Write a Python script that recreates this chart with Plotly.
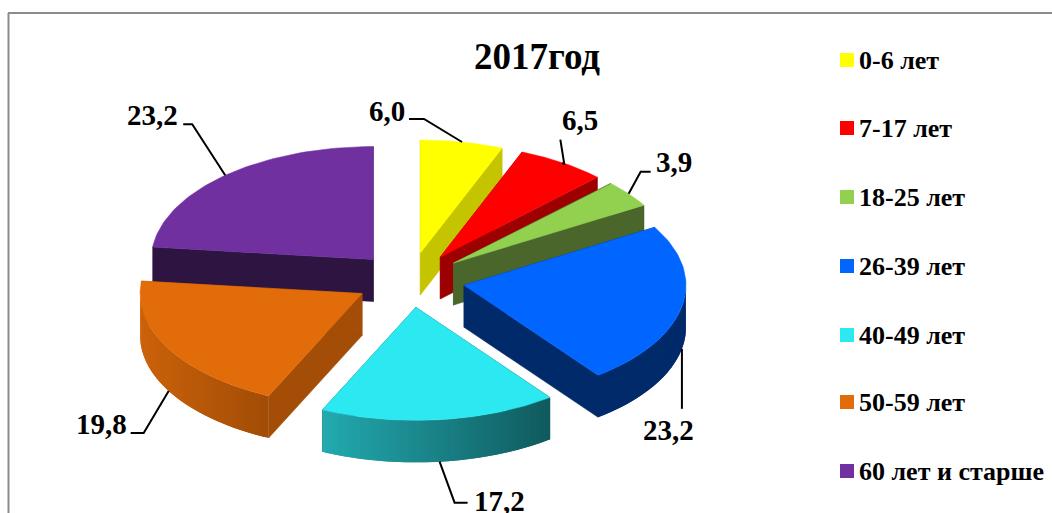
import math
import plotly.graph_objects as go

# ---- data ----
categories = ["0-6 лет", "7-17 лет", "18-25 лет", "26-39 лет", "40-49 лет", "50-59 лет", "60 лет и старше"]
values = [6.0, 6.5, 3.9, 23.2, 17.2, 19.8, 23.2]
value_labels = ["6,0", "6,5", "3,9", "23,2", "17,2", "19,8", "23,2"]
title_text = "2017год"

# ---- colours ----
top_colors = ["#FFFF00", "#FF0000", "#92D050", "#0066FF", "#2CE8F0", "#E36C0A", "#7030A0"]
radial_colors = ["#C4C400", "#9C0000", "#4A662A", "#002A6A", "#0F5A5E", "#A34D07", "#2E1440"]
rim_left = ["#C4C400", "#9C0000", "#4A662A", "#002A6A", "#22A9AE", "#CC620A", "#2E1440"]
rim_right = ["#C4C400", "#9C0000", "#4A662A", "#002A6A", "#105B5F", "#A34D07", "#2E1440"]

# ---- geometry ----
CX, CY, RX, RY, DEPTH, EXPLODE = 410, 280, 222, 113, 42, 55
leaders = [(-38, -23, -53, -23), (2, 2, -2, -23), (12, -22, 22, -22),
           (0, 60, 0, 60), (15, 41, 28, 41), (-25, 42, -38, 42), (-33, -51, -42, -51)]
label_anchor = [("right", -2, -8), ("left", 0, -20), ("left", 3, -10), ("center", -13, 21),
                ("left", 4, -2), ("right", -2, -9), ("right", -3, -9)]
legend_marker_x = 847
legend_text_x = 857
legend_y = [60, 128, 197, 266, 335, 402, 471]


def hex_mix(a, b, t):
    ca = [int(a[i:i + 2], 16) for i in (1, 3, 5)]
    cb = [int(b[i:i + 2], 16) for i in (1, 3, 5)]
    return "rgb(%d,%d,%d)" % tuple(round(p + (q - p) * t) for p, q in zip(ca, cb))


def poly(xs, ys, color, lw=0.5):
    return go.Scatter(x=xs, y=ys, mode="lines", fill="toself", fillcolor=color,
                      line=dict(color=color, width=lw), hoverinfo="skip", showlegend=False)


total = sum(values)
spans, c = [], 0.0
for v in values:
    spans.append((c / total * 2 * math.pi, (c + v) / total * 2 * math.pi))
    c += v

fig = go.Figure()
order = [6, 0, 1, 2, 3, 5, 4]
anchors = {}
for i in order:
    a0, a1 = spans[i]
    mid = (a0 + a1) / 2
    ax = CX + EXPLODE * math.sin(mid)
    ay = CY - EXPLODE * math.cos(mid) * 0.5
    n = 60
    angs = [a0 + (a1 - a0) * k / n for k in range(n + 1)]
    rx = [ax + RX * math.sin(t) for t in angs]
    ry = [ay - RY * math.cos(t) for t in angs]
    # radial walls
    fig.add_trace(poly([ax, rx[0], rx[0], ax, ax], [ay, ry[0], ry[0] + DEPTH, ay + DEPTH, ay], radial_colors[i]))
    fig.add_trace(poly([ax, rx[-1], rx[-1], ax, ax], [ay, ry[-1], ry[-1] + DEPTH, ay + DEPTH, ay], radial_colors[i]))
    # outer wall, shaded from left to right; bands overlap so that no seams show
    vis = [k for k in range(n) if math.cos((angs[k] + angs[k + 1]) / 2) < 0]
    if vis:
        xmin, xmax = min(rx[k] for k in vis), max(rx[k + 1] for k in vis)
        bands = [(vis[j], vis[min(j + 1, len(vis) - 1)] + 1) for j in range(len(vis))]
        for k, e in bands:
            t = ((rx[k] + rx[k + 1]) / 2 - xmin) / max(xmax - xmin, 1)
            col = hex_mix(rim_left[i], rim_right[i], t)
            fig.add_trace(poly([rx[k], rx[e], rx[e], rx[k], rx[k]],
                               [ry[k], ry[e], ry[e] + DEPTH, ry[k] + DEPTH, ry[k]], col, 0))
    # top face
    fig.add_trace(poly([ax] + rx + [ax], [ay] + ry + [ay], top_colors[i]))
    px = ax + RX * math.sin(mid)
    py = ay - RY * math.cos(mid) + (DEPTH if math.cos(mid) < 0 else 0)
    anchors[i] = (px, py)

notes = []
for i in range(len(values)):
    px, py = anchors[i]
    ex, ey, fx, fy = leaders[i]
    fig.add_trace(go.Scatter(x=[px, px + ex, px + fx], y=[py, py + ey, py + fy], mode="lines",
                             line=dict(color="#000000", width=2), hoverinfo="skip", showlegend=False))
    anc, dx, dy = label_anchor[i]
    notes.append(dict(x=px + fx + dx, y=py + fy + dy, xref="x", yref="y",
                      text="<b>%s</b>" % value_labels[i], showarrow=False, xanchor=anc, yanchor="middle",
                      font=dict(family="Liberation Serif", size=29, color="#000000")))

# legend key
for i, name in enumerate(categories):
    fig.add_trace(go.Scatter(x=[legend_marker_x], y=[legend_y[i]], mode="markers", name=name, showlegend=False,
                             marker=dict(symbol="square", size=14, color=top_colors[i], line=dict(width=0))))
    notes.append(dict(x=legend_text_x, y=legend_y[i], xref="x", yref="y", text="<b>%s</b>" % name, showarrow=False,
                      xanchor="left", yanchor="middle", font=dict(family="Liberation Serif", size=26, color="#000000")))

notes.append(dict(x=537, y=56, xref="x", yref="y", text="<b>%s</b>" % title_text, showarrow=False,
                  font=dict(family="Liberation Serif", size=37, color="#000000")))

fig.update_layout(
    width=1052, height=513, autosize=False,
    margin=dict(l=0, r=0, t=0, b=0),
    paper_bgcolor="#FFFFFF", plot_bgcolor="#FFFFFF", showlegend=False,
    xaxis=dict(range=[0, 1052], visible=False, fixedrange=True),
    yaxis=dict(range=[513, 0], visible=False, fixedrange=True),
    shapes=[dict(type="line", xref="x", yref="y", x0=8.5, x1=8.5, y0=13, y1=513, line=dict(color="#8C8C8C", width=2)),
            dict(type="line", xref="x", yref="y", x0=8, x1=1052, y0=13, y1=13, line=dict(color="#8C8C8C", width=2))],
    annotations=notes,
)
fig.write_html("out.html", config={"displayModeBar": False},
               post_script="document.body.style.margin='0';document.body.style.overflow='hidden';")
